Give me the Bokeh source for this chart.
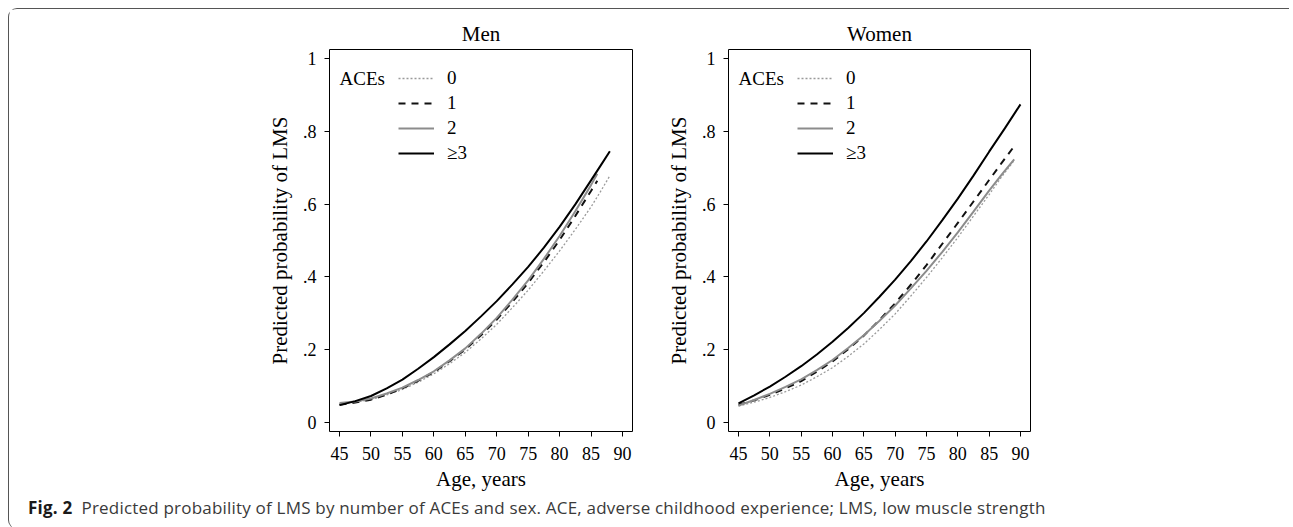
from bokeh.plotting import figure
from bokeh.models import Range1d, FixedTicker, Legend, LegendItem, Label, Div
from bokeh.layouts import row, column
from bokeh.embed import file_html
from bokeh.resources import INLINE

# ---------------- data ----------------
x_ticks = [45, 50, 55, 60, 65, 70, 75, 80, 85, 90]
y_ticks = [0, 0.2, 0.4, 0.6, 0.8, 1]
y_tick_labels = ["0", ".2", ".4", ".6", ".8", "1"]
ace_labels = ["0", "1", "2", "\u22653"]

# Men
men_ages_0 = [45, 47.5, 50, 52.5, 55, 57.5, 60, 62.5, 65, 67.5, 70, 72.5, 75, 77.5, 80, 82.5, 85, 86.5, 88]
men_ace0 = [0.050, 0.055, 0.062, 0.075, 0.090, 0.110, 0.133, 0.161, 0.192, 0.229, 0.269, 0.315,
            0.363, 0.416, 0.471, 0.530, 0.592, 0.634, 0.678]
men_ages_1 = [45, 47.5, 50, 52.5, 55, 57.5, 60, 62.5, 65, 67.5, 70, 72.5, 75, 77.5, 80, 82.5, 85, 86]
men_ace1 = [0.048, 0.054, 0.062, 0.076, 0.093, 0.114, 0.138, 0.168, 0.200, 0.239, 0.282, 0.331,
            0.383, 0.440, 0.501, 0.567, 0.636, 0.664]
men_ages_2 = [45, 47.5, 50, 52.5, 55, 57.5, 60, 62.5, 65, 67.5, 70, 72.5, 75, 77.5, 80, 82.5, 85, 86]
men_ace2 = [0.053, 0.057, 0.065, 0.079, 0.095, 0.116, 0.140, 0.170, 0.203, 0.243, 0.287, 0.337,
            0.390, 0.449, 0.512, 0.580, 0.652, 0.683]
men_ages_3 = [45, 47.5, 50, 52.5, 55, 57.5, 60, 62.5, 65, 67.5, 70, 72.5, 75, 77.5, 80, 82.5, 85, 86.5, 88]
men_ace3 = [0.047, 0.058, 0.072, 0.093, 0.117, 0.147, 0.179, 0.214, 0.251, 0.291, 0.333, 0.379,
            0.427, 0.480, 0.537, 0.599, 0.665, 0.705, 0.745]

# Women
women_ages_0 = [45, 47.5, 50, 52.5, 55, 57.5, 60, 62.5, 65, 67.5, 70, 72.5, 75, 77.5, 80, 82.5, 85, 87, 89]
women_ace0 = [0.044, 0.055, 0.068, 0.084, 0.102, 0.125, 0.150, 0.181, 0.215, 0.255, 0.298, 0.347,
              0.398, 0.452, 0.508, 0.567, 0.626, 0.675, 0.720]
women_ages_1 = [45, 47.5, 50, 52.5, 55, 57.5, 60, 62.5, 65, 67.5, 70, 72.5, 75, 77.5, 80, 82.5, 85, 87, 89]
women_ace1 = [0.048, 0.060, 0.075, 0.093, 0.113, 0.139, 0.167, 0.201, 0.238, 0.281, 0.327, 0.378,
              0.432, 0.490, 0.548, 0.607, 0.666, 0.713, 0.759]
women_ages_2 = [45, 47.5, 50, 52.5, 55, 57.5, 60, 62.5, 65, 67.5, 70, 72.5, 75, 77.5, 80, 82.5, 85, 87, 89]
women_ace2 = [0.046, 0.061, 0.078, 0.097, 0.118, 0.143, 0.171, 0.204, 0.239, 0.279, 0.321, 0.368,
              0.416, 0.468, 0.522, 0.579, 0.637, 0.681, 0.723]
women_ages_3 = [45, 47.5, 50, 52.5, 55, 57.5, 60, 62.5, 65, 67.5, 70, 72.5, 75, 77.5, 80, 82.5, 85, 87.5, 90]
women_ace3 = [0.052, 0.074, 0.098, 0.125, 0.154, 0.186, 0.221, 0.259, 0.300, 0.345, 0.392, 0.443,
              0.497, 0.555, 0.615, 0.678, 0.744, 0.808, 0.874]

# ---------------- styling ----------------
SERIF = "Liberation Serif"
styles = [
    dict(line_color="#9a9a9a", line_width=1.3, line_dash="2 2"),
    dict(line_color="#111111", line_width=2, line_dash="7 6"),
    dict(line_color="#8c8c8c", line_width=2, line_dash="solid"),
    dict(line_color="#000000", line_width=2, line_dash="solid"),
]


def make_panel(title, ages_list, vals_list, min_left, min_right, fwidth):
    p = figure(frame_width=fwidth, frame_height=382,
               x_range=Range1d(43.4, 91.6), y_range=Range1d(-0.0256, 1.025),
               output_backend="svg", toolbar_location=None,
               min_border_left=min_left, min_border_right=min_right,
               min_border_top=40, min_border_bottom=58,
               title=title, background_fill_color="white",
               border_fill_color="white")
    p.title.align = "center"
    p.title.text_font = SERIF
    p.title.text_font_size = "21px"
    p.title.text_font_style = "normal"
    p.title.text_color = "black"
    p.title.standoff = 7
    p.xgrid.visible = False
    p.ygrid.visible = False
    p.outline_line_color = "black"
    p.outline_line_width = 1
    p.outline_line_alpha = 1

    for ax in (p.xaxis[0], p.yaxis[0]):
        ax.axis_line_color = None
        ax.major_tick_line_color = "black"
        ax.major_tick_out = 5
        ax.major_tick_in = 0
        ax.minor_tick_line_color = None
        ax.major_label_text_font = SERIF
        ax.major_label_text_font_size = "18px"
        ax.major_label_text_color = "black"
        ax.axis_label_text_font = SERIF
        ax.axis_label_text_font_size = "21px"
        ax.axis_label_text_font_style = "normal"
        ax.axis_label_text_color = "black"

    p.xaxis.ticker = FixedTicker(ticks=x_ticks)
    p.xaxis.axis_label = "Age, years"
    p.xaxis.major_label_standoff = 10
    p.xaxis.axis_label_standoff = 4

    p.yaxis.ticker = FixedTicker(ticks=y_ticks)
    p.yaxis.major_label_overrides = {t: l for t, l in zip(y_ticks, y_tick_labels)}
    p.yaxis.major_label_orientation = "horizontal"
    p.yaxis.axis_label = "Predicted probability of LMS"
    p.yaxis.major_label_standoff = 8
    p.yaxis.axis_label_standoff = 8

    items = []
    for ages, vals, st, lab in zip(ages_list, vals_list, styles, ace_labels):
        r = p.line(ages, vals, **st)
        items.append(LegendItem(label=lab, renderers=[r]))

    leg = Legend(items=items, location=(69, 267), orientation="vertical",
                 background_fill_alpha=0, border_line_alpha=0,
                 padding=0, margin=0, spacing=3,
                 glyph_width=36, glyph_height=22, label_height=22,
                 label_standoff=13,
                 label_text_font=SERIF, label_text_font_size="19px",
                 label_text_color="black", label_text_baseline="middle")
    p.add_layout(leg, "center")

    p.add_layout(Label(x=45.0, y=0.945, text="ACEs", text_font=SERIF,
                       text_font_size="19px", text_color="black",
                       text_align="left", text_baseline="middle"))
    return p


men = make_panel("Men", [men_ages_0, men_ages_1, men_ages_2, men_ages_3],
                 [men_ace0, men_ace1, men_ace2, men_ace3], 320, 28, 303)
women = make_panel("Women", [women_ages_0, women_ages_1, women_ages_2, women_ages_3],
                   [women_ace0, women_ace1, women_ace2, women_ace3], 68, 250, 302)

caption_html = (
    '<div style="padding:0 0 0 14px; font-family:\'Open Sans\'; font-size:17px; '
    'letter-spacing:0.2px; color:#3a3a3a; white-space:nowrap; line-height:20px;">'
    '<span style="font-weight:700; color:#1a1a1a;">Fig. 2</span>&nbsp;&nbsp;'
    'Predicted probability of LMS by number of ACEs and sex. ACE, adverse '
    'childhood experience; LMS, low muscle strength</div>'
)
caption = Div(text=caption_html, width=1270, height=26)

layout = column(row(men, women), caption, margin=(8, 0, 0, 8),
                styles={"border-top": "1.5px solid #555555",
                        "border-left": "1.5px solid #555555",
                        "border-top-left-radius": "9px",
                        "border-bottom-left-radius": "9px"})

open("out.html", "w").write(file_html(layout, INLINE))
